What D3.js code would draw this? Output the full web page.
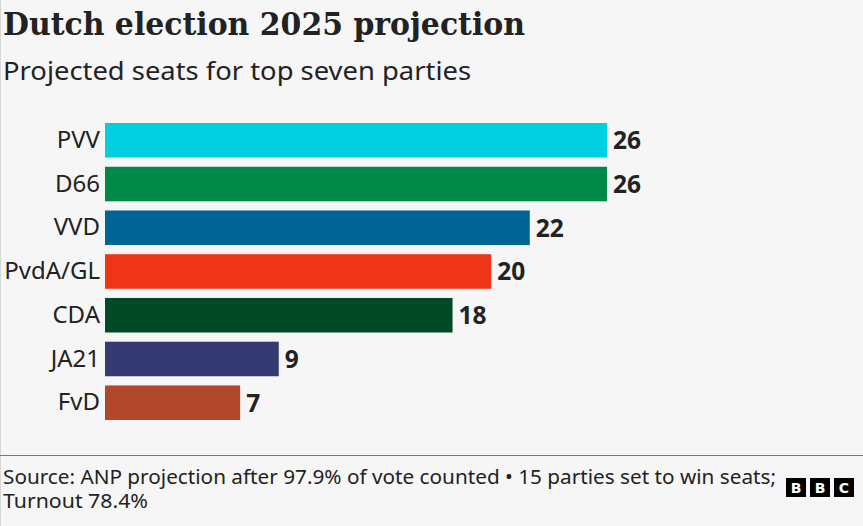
<!DOCTYPE html>
<html><head><meta charset="utf-8">
<script src="https://cdn.jsdelivr.net/npm/d3@7"></script>
<style>
html,body{margin:0;padding:0;background:#f6f6f6;}
svg{display:block;}
</style></head>
<body>
<script>
const parties = ["PVV","D66","VVD","PvdA/GL","CDA","JA21","FvD"];
const seats = [26,26,22,20,18,9,7];
const colors = ["#00cfe0","#008849","#006494","#ef3418","#004a27","#363a72","#b0472d"];
const title = "Dutch election 2025 projection";
const subtitle = "Projected seats for top seven parties";
const source1 = "Source: ANP projection after 97.9% of vote counted \u2022 15 parties set to win seats;";
const source2 = "Turnout 78.4%";

const W = 863, H = 526;
const svg = d3.select("body").append("svg").attr("width", W).attr("height", H);
svg.append("rect").attr("width", W).attr("height", H).attr("fill", "#f6f6f6");
svg.append("line").attr("x1",0.5).attr("x2",0.5).attr("y1",0).attr("y2",H).attr("stroke","#d6d6d6");

svg.append("text").attr("x",3).attr("y",35).text(title)
  .attr("font-family","'DejaVu Serif', serif").attr("font-weight","bold").attr("font-size",31)
  .attr("fill","#222").attr("textLength",522).attr("lengthAdjust","spacingAndGlyphs");
svg.append("text").attr("x",3).attr("y",80).text(subtitle)
  .attr("font-family","'Noto Sans', sans-serif").attr("font-size",25.5).attr("fill","#222")
  .attr("textLength",468).attr("lengthAdjust","spacingAndGlyphs");

const x = d3.scaleLinear().domain([0,26]).range([105,607]);
const y = d3.scaleBand().domain(parties).range([123,420]).paddingInner(0.21).paddingOuter(0);

const g = svg.append("g");
g.selectAll("rect.bar").data(parties).join("rect").attr("class","bar")
  .attr("x", x(0)).attr("y", d=>y(d)).attr("height", y.bandwidth())
  .attr("width", (d,i)=>x(seats[i])-x(0)).attr("fill",(d,i)=>colors[i]);

const yAxis = d3.axisLeft(y).tickSize(0).tickPadding(5);
const ag = svg.append("g").attr("transform",`translate(${x(0)},0)`).call(yAxis);
ag.select(".domain").remove();
ag.selectAll("text").attr("font-family","'Noto Sans', sans-serif").attr("font-size",24).attr("fill","#222");

g.selectAll("text.val").data(parties).join("text").attr("class","val")
  .attr("x",(d,i)=>x(seats[i])+6).attr("y",d=>y(d)+y.bandwidth()/2).attr("dy","0.36em")
  .text((d,i)=>seats[i])
  .attr("font-family","'Noto Sans', sans-serif").attr("font-weight","bold").attr("font-size",24.5).attr("fill","#222");

svg.append("line").attr("x1",0).attr("x2",W).attr("y1",455.5).attr("y2",455.5).attr("stroke","#777").attr("stroke-width",1);

svg.append("text").attr("x",3).attr("y",484).text(source1)
  .attr("font-family","'Liberation Sans Narrow','Noto Sans',sans-serif").attr("font-size",19).attr("fill","#222")
  .attr("textLength",773).attr("lengthAdjust","spacingAndGlyphs");
svg.append("text").attr("x",3).attr("y",508).text(source2)
  .attr("font-family","'Liberation Sans Narrow','Noto Sans',sans-serif").attr("font-size",19).attr("fill","#222")
  .attr("textLength",145).attr("lengthAdjust","spacingAndGlyphs");

const logo = svg.append("g");
["B","B","C"].forEach((c,i)=>{
  const lx = 786 + i*24;
  logo.append("rect").attr("x",lx).attr("y",478).attr("width",20).attr("height",19).attr("fill","#000");
  logo.append("text").attr("x",lx+10).attr("y",493).attr("text-anchor","middle").text(c)
    .attr("font-family","'DejaVu Sans',sans-serif").attr("font-weight","bold").attr("font-size",14).attr("fill","#fff");
});
</script>
</body></html>
